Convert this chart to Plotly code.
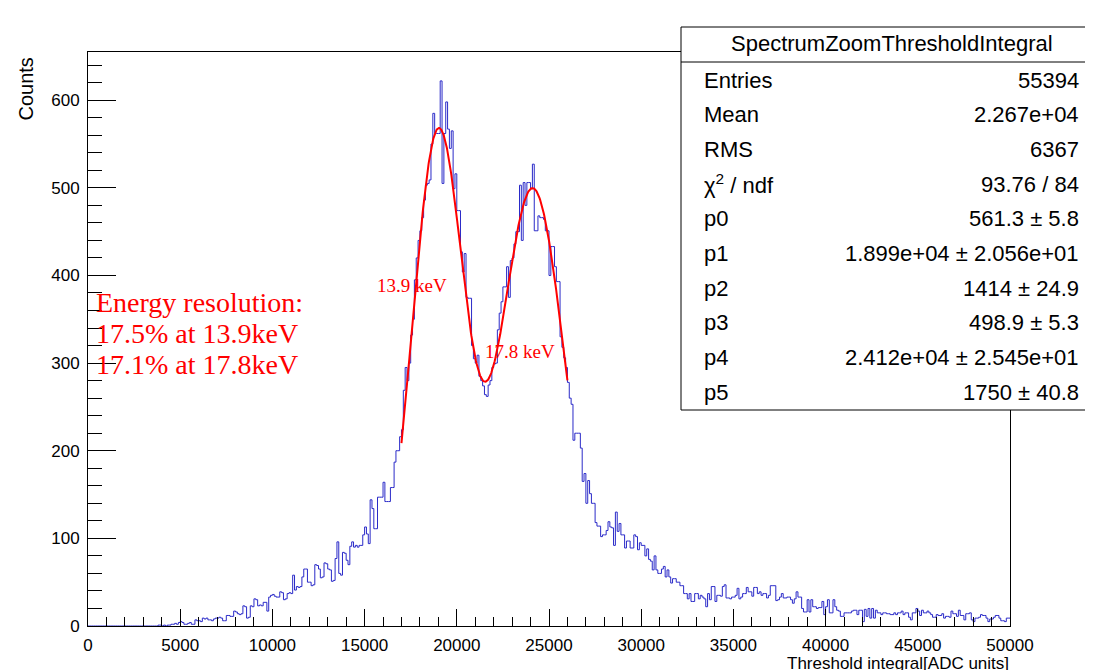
import numpy as np
import plotly.graph_objects as go

# ROOT histogram "SpectrumZoomThresholdIntegral": 500 bins between 0 and 50000 ADC units
x_lo = 0
x_hi = 50000
counts = [
    0, 0, 0, 0, 0, 0, 0, 0, 0, 0,
    0, 0, 0, 0, 0, 0, 0, 0, 0, 0,
    0, 0, 0, 0, 0, 0, 0, 0, 0, 0,
    0, 0, 0, 0, 0, 0, 0, 0, 1, 1,
    0, 1, 0, 1, 1, 2, 2, 3, 2, 4,
    5, 4, 2, 2, 3, 4, 2, 2, 7, 6,
    6, 5, 9, 8, 9, 7, 7, 6, 8, 9,
    9, 10, 9, 6, 6, 12, 12, 11, 11, 17,
    16, 14, 13, 14, 23, 22, 9, 10, 23, 22,
    31, 30, 23, 24, 23, 27, 27, 17, 33, 35,
    36, 34, 33, 33, 39, 38, 30, 31, 37, 38,
    37, 58, 41, 45, 44, 45, 56, 65, 65, 50,
    50, 46, 47, 70, 69, 65, 55, 56, 72, 71,
    65, 64, 51, 52, 77, 96, 60, 58, 84, 83,
    75, 70, 91, 96, 90, 92, 90, 92, 92, 104,
    113, 105, 94, 144, 134, 111, 111, 147, 147, 147,
    164, 142, 142, 142, 158, 158, 187, 200, 200, 216,
    224, 269, 295, 280, 300, 332, 350, 395, 420, 440,
    451, 466, 486, 503, 505, 509, 550, 585, 562, 562,
    562, 622, 505, 562, 598, 567, 545, 565, 499, 516,
    474, 474, 427, 404, 425, 375, 374, 374, 320, 305,
    300, 309, 285, 280, 274, 264, 262, 275, 280, 295,
    299, 300, 338, 357, 370, 387, 387, 410, 375, 417,
    420, 436, 450, 450, 503, 440, 506, 480, 506, 506,
    499, 527, 451, 451, 468, 466, 466, 464, 451, 451,
    400, 433, 433, 410, 393, 393, 330, 318, 306, 295,
    278, 260, 253, 212, 220, 220, 220, 203, 165, 174,
    140, 166, 151, 140, 140, 118, 114, 114, 102, 104,
    104, 109, 119, 113, 112, 92, 130, 108, 117, 104,
    104, 89, 97, 97, 89, 89, 104, 102, 87, 95,
    92, 92, 80, 88, 76, 74, 64, 80, 64, 60,
    60, 65, 68, 56, 64, 56, 49, 54, 54, 50,
    50, 46, 46, 37, 37, 31, 37, 28, 28, 37,
    37, 31, 35, 33, 31, 22, 37, 30, 45, 45,
    28, 35, 35, 34, 45, 47, 32, 32, 31, 33,
    33, 35, 43, 31, 33, 37, 37, 44, 39, 39,
    34, 44, 44, 37, 39, 35, 37, 37, 32, 35,
    46, 46, 46, 29, 30, 33, 37, 32, 32, 33,
    33, 30, 26, 31, 39, 33, 33, 20, 16, 16,
    30, 16, 30, 22, 22, 20, 21, 21, 28, 13,
    22, 30, 15, 15, 30, 22, 18, 17, 11, 11,
    15, 15, 15, 15, 17, 18, 18, 13, 18, 18,
    5, 19, 11, 20, 9, 20, 9, 18, 15, 15,
    13, 15, 15, 14, 14, 13, 13, 15, 13, 15,
    15, 17, 13, 15, 15, 10, 7, 15, 15, 20,
    17, 12, 18, 15, 15, 17, 15, 13, 10, 10,
    13, 12, 12, 14, 9, 11, 11, 10, 17, 14,
    14, 11, 18, 12, 12, 7, 14, 14, 15, 7,
    5, 9, 9, 10, 13, 12, 12, 9, 5, 8,
    8, 10, 12, 12, 9, 6, 6, 5, 9, 9,
]

# double gaussian fit (parameters from the stat box)
fit_range = [17000, 26000]
fit_pars = [561.3, 1.899e4, 1414, 498.9, 2.412e4, 1750]

stat_title = "SpectrumZoomThresholdIntegral"
stat_names = ["Entries", "Mean", "RMS", "χ<sup>2</sup> / ndf", "p0", "p1", "p2", "p3", "p4", "p5"]
stat_values = [
    "55394", "2.267e+04", "6367", "93.76 / 84",
    "561.3 ± 5.8", "1.899e+04 ± 2.056e+01", "1414 ± 24.9",
    "498.9 ± 5.3", "2.412e+04 ± 2.545e+01", "1750 ± 40.8",
]

peak_labels = ["13.9 keV", "17.8 keV"]
resolution_lines = ["Energy resolution:", "17.5% at 13.9keV", "17.1% at 17.8keV"]

# page geometry (pixels); the html body adds an 8px margin around the figure
W, H = 1093, 670
OFF = 8
X0, X1 = 88, 1010   # frame left/right on screen
Y0, Y1 = 52, 626    # frame top/bottom on screen


def px(x):
    return (x - X0) / (X1 - X0)


def py(y):
    return (Y1 - y) / (Y1 - Y0)


nb = len(counts)
edges = np.linspace(x_lo, x_hi, nb + 1)
step_y = counts + [counts[-1]]

p = fit_pars
xf = np.linspace(fit_range[0], fit_range[1], 400)
yf = p[0] * np.exp(-0.5 * ((xf - p[1]) / p[2]) ** 2) + p[3] * np.exp(-0.5 * ((xf - p[4]) / p[5]) ** 2)

fig = go.Figure()
fig.add_trace(
    go.Scatter(
        x=edges, y=step_y, mode="lines", line=dict(color="#2a2ac8", width=1, shape="hv"), hoverinfo="skip"
    )
)
fig.add_trace(go.Scatter(x=xf, y=yf, mode="lines", line=dict(color="#ff0000", width=2), hoverinfo="skip"))

tick_font = dict(family="Liberation Sans, Arial, sans-serif", size=17, color="black")
fig.update_xaxes(
    range=[x_lo, x_hi], dtick=5000, tick0=0, tickformat="d", ticks="inside", ticklen=17, tickwidth=1,
    tickcolor="black", minor=dict(dtick=1000, ticks="inside", ticklen=9, tickcolor="black"),
    showline=True, linecolor="black", linewidth=1, mirror=True, showgrid=False, zeroline=False,
    tickfont=tick_font, ticklabelstandoff=4,
)
fig.update_yaxes(
    range=[0, 655], dtick=100, tick0=0, ticks="inside", ticklen=28, tickwidth=1, tickcolor="black",
    minor=dict(dtick=20, ticks="inside", ticklen=14, tickcolor="black"),
    showline=True, linecolor="black", linewidth=1, mirror=True, showgrid=False, zeroline=False,
    tickfont=tick_font, ticklabelstandoff=4,
)

ann = []
ann.append(dict(x=px(25), y=py(56), text="Counts", textangle=-90, xanchor="center", yanchor="top",
                font=dict(family="Liberation Sans, Arial", size=20, color="black")))
ann.append(dict(x=px(1011), y=py(652), text="Threshold integral[ADC units]", xanchor="right", yanchor="top",
                font=dict(family="Liberation Sans, Arial", size=17, color="black")))

# energy resolution text
for i, line in enumerate(resolution_lines):
    ann.append(dict(x=px(94), y=py(302 + 31 * i), text=line, xanchor="left", yanchor="middle",
                    font=dict(family="Liberation Serif, Times New Roman, serif", size=28, color="#ff0000")))
ann.append(dict(x=px(375), y=py(285), text=peak_labels[0], xanchor="left", yanchor="middle",
                font=dict(family="Liberation Serif, serif", size=19, color="#ff0000")))
ann.append(dict(x=px(483), y=py(351), text=peak_labels[1], xanchor="left", yanchor="middle",
                font=dict(family="Liberation Serif, serif", size=19, color="#ff0000")))

# stat box
stat_font = dict(family="Liberation Sans, Arial, sans-serif", size=22, color="black")
ann.append(dict(x=px(892), y=py(44), text=stat_title, xanchor="center", yanchor="middle", font=stat_font))
for i, (n, v) in enumerate(zip(stat_names, stat_values)):
    yy = py(80 + 34.67 * i)
    ann.append(dict(x=px(702), y=yy, text=n, xanchor="left", yanchor="middle", font=stat_font))
    ann.append(dict(x=px(1081), y=yy, text=v, xanchor="right", yanchor="middle", font=stat_font))
for a in ann:
    a.update(xref="paper", yref="paper", showarrow=False)

shapes = [
    dict(type="rect", xref="paper", yref="paper", x0=px(681), x1=px(1092), y0=py(410), y1=py(27),
         line=dict(color="black", width=1), fillcolor="white", layer="above"),
    dict(type="line", xref="paper", yref="paper", x0=px(681), x1=px(1092), y0=py(62), y1=py(62),
         line=dict(color="black", width=1), layer="above"),
]

fig.update_layout(
    width=W - OFF, height=H - OFF,
    margin=dict(l=X0 - OFF, r=W - X1, t=Y0 - OFF, b=H - Y1),
    paper_bgcolor="white", plot_bgcolor="white", showlegend=False,
    annotations=ann, shapes=shapes,
)
fig.write_html("out.html")
